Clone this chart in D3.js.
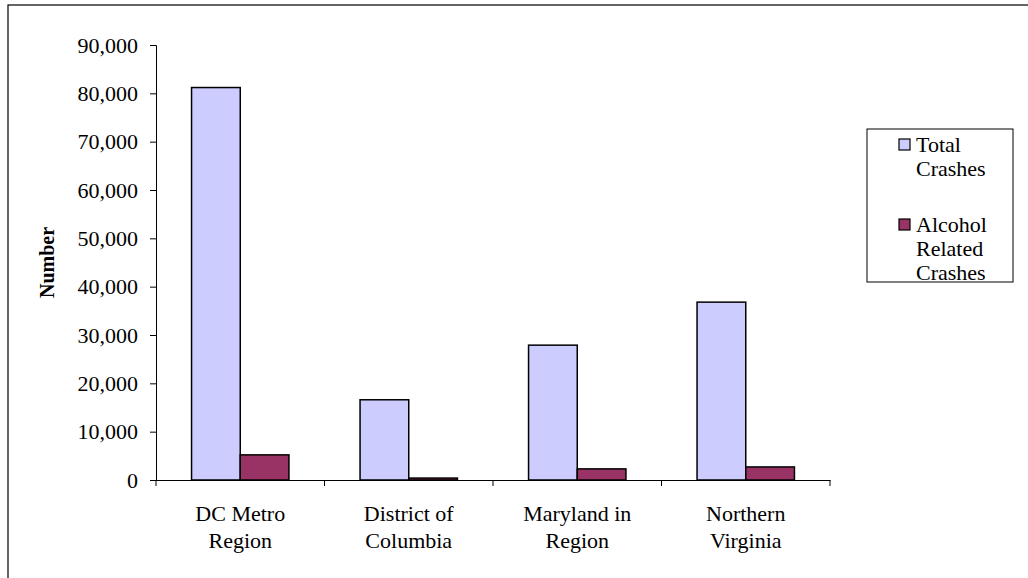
<!DOCTYPE html>
<html>
<head>
<meta charset="utf-8">
<script src="https://cdn.jsdelivr.net/npm/d3@7/dist/d3.min.js"></script>
<style>
  body { margin: 0; background: #fff; }
  svg text, svg tspan { font-family: "Liberation Serif", "Times New Roman", serif; fill: #000; }
</style>
</head>
<body>
<div id="chart"></div>
<script>
var categories = [["DC Metro", "Region"], ["District of", "Columbia"], ["Maryland in", "Region"], ["Northern", "Virginia"]];
var seriesNames = [["Total", "Crashes"], ["Alcohol", "Related", "Crashes"]];
var seriesColors = ["#ccccff", "#993366"];
var totalCrashes = [81200, 16600, 27900, 36800];
var alcoholCrashes = [5200, 400, 2300, 2700];
var yTicks = [0, 10000, 20000, 30000, 40000, 50000, 60000, 70000, 80000, 90000];

var width = 1028, height = 578;
var plot = {x1: 156, x2: 830, y1: 45, y2: 480};
var serif = "'Liberation Serif', 'Times New Roman', serif";

var svg = d3.select("#chart").append("svg").attr("width", width).attr("height", height);

// outer chart border (runs off the right and bottom)
svg.append("rect").attr("x", 8).attr("y", 5).attr("width", 1040).attr("height", 600)
    .attr("fill", "none").attr("stroke", "#000").attr("stroke-width", 1.2);

var y = d3.scaleLinear().domain([0, 90000]).range([plot.y2, plot.y1]);
var x0 = d3.scaleBand().domain(d3.range(categories.length)).range([plot.x1, plot.x2]).padding(0);
var x1 = d3.scaleBand().domain([0, 1]).range([0, x0.bandwidth()]).paddingInner(0).paddingOuter(0.73);

var yAxis = svg.append("g").attr("transform", "translate(" + plot.x1 + ",0)")
    .call(d3.axisLeft(y).tickValues(yTicks).tickSize(6).tickPadding(12).tickFormat(d3.format(",")));
yAxis.attr("font-family", serif).selectAll("text").style("font-size", "22px");

var xAxis = svg.append("g").attr("transform", "translate(0," + plot.y2 + ")")
    .call(d3.axisBottom(x0).tickSize(0).tickFormat(""));
// category boundary ticks
var bounds = d3.range(categories.length + 1).map(function(i) { return plot.x1 + i * x0.step(); });
svg.selectAll(".ctick").data(bounds).enter().append("line")
    .attr("x1", function(d) { return d; }).attr("x2", function(d) { return d; })
    .attr("y1", plot.y2).attr("y2", plot.y2 + 6).attr("stroke", "#000");

svg.selectAll(".domain").attr("stroke", "#000");

var groups = svg.selectAll(".grp").data(categories).enter().append("g")
    .attr("transform", function(d, i) { return "translate(" + x0(i) + ",0)"; });

[totalCrashes, alcoholCrashes].forEach(function(vals, s) {
    groups.append("rect")
        .attr("x", x1(s)).attr("width", x1.bandwidth())
        .attr("y", function(d, i) { return y(vals[i]); })
        .attr("height", function(d, i) { return plot.y2 - y(vals[i]); })
        .attr("fill", seriesColors[s]).attr("stroke", "#000").attr("stroke-width", 1.5);
});

groups.append("text").attr("text-anchor", "middle").attr("x", x0.bandwidth() / 2).attr("y", 521)
    .attr("font-family", serif).style("font-size", "22px")
    .selectAll("tspan").data(function(d) { return d; }).enter().append("tspan")
    .attr("x", x0.bandwidth() / 2).attr("dy", function(d, i) { return i ? 27 : 0; })
    .attr("font-family", serif)
    .text(function(d) { return d; });

svg.append("text").attr("transform", "translate(54," + ((plot.y1 + plot.y2) / 2) + ") rotate(-90)")
    .attr("text-anchor", "middle").attr("font-family", serif)
    .style("font-size", "20px").style("font-weight", "bold").text("Number");

// legend
var lg = svg.append("g");
lg.append("rect").attr("x", 867).attr("y", 129).attr("width", 146).attr("height", 153)
    .attr("fill", "#fff").attr("stroke", "#000").attr("stroke-width", 1);
var legendTop = [152, 232];
seriesNames.forEach(function(lines, s) {
    lg.append("rect").attr("x", 899).attr("y", legendTop[s] - 13).attr("width", 11).attr("height", 11)
        .attr("fill", seriesColors[s]).attr("stroke", "#000").attr("stroke-width", 1.2);
    lg.append("text").attr("x", 916).attr("y", legendTop[s]).attr("font-family", serif).style("font-size", "22px")
        .selectAll("tspan").data(lines).enter().append("tspan")
        .attr("x", 916).attr("dy", function(d, i) { return i ? 24 : 0; })
        .attr("font-family", serif)
        .text(function(d) { return d; });
});
</script>
</body>
</html>
